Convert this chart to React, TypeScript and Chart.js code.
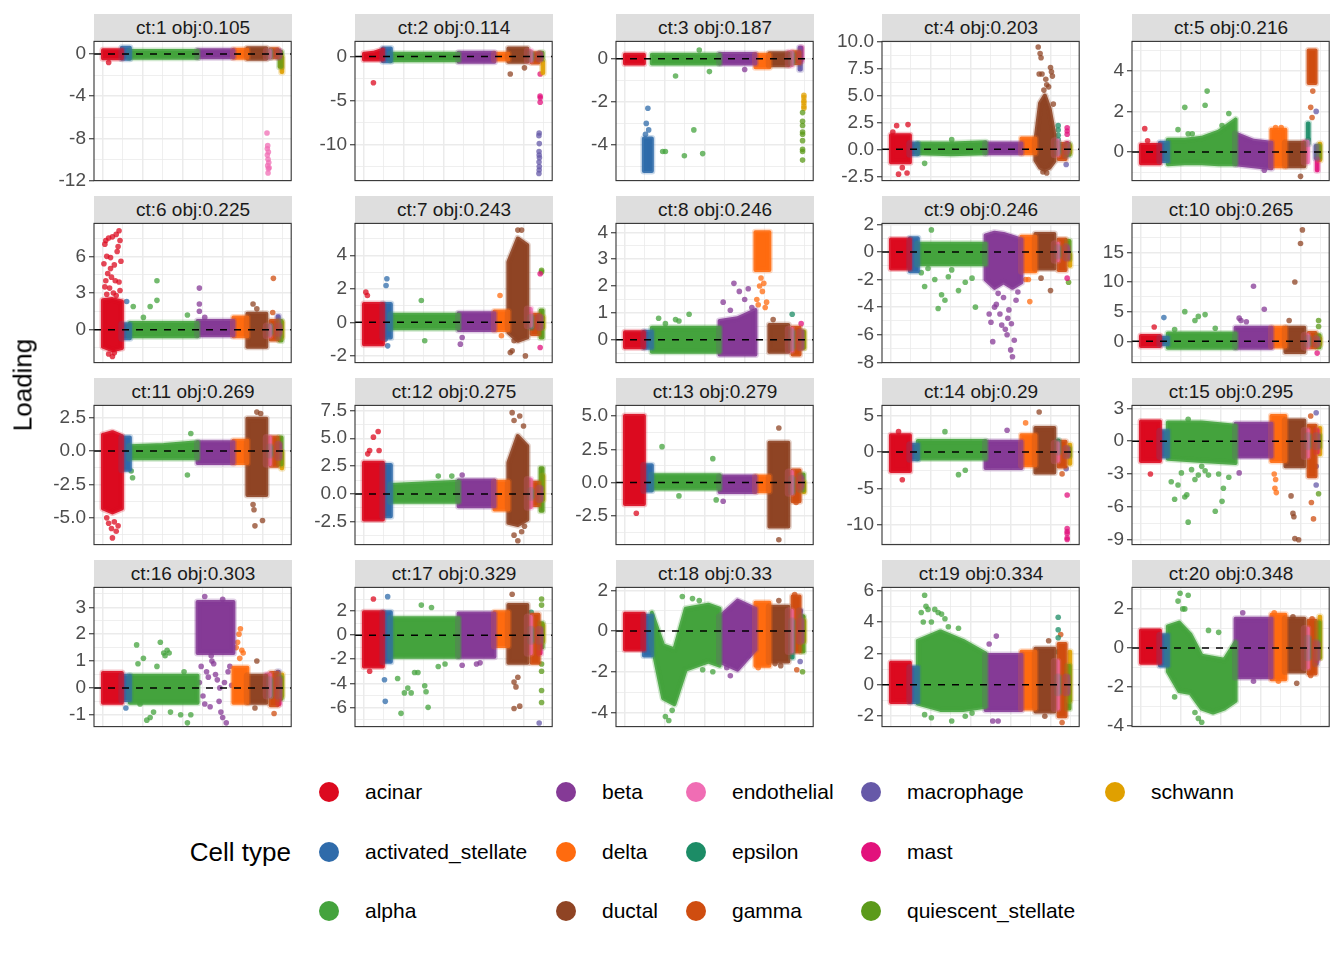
import { useEffect, useRef } from 'react';
import Chart from 'chart.js/auto';

const FONT = '"Liberation Sans", Arial, Helvetica, sans-serif';

// cell types, in the order they are laid out along the x axis
const cellTypes = ['acinar', 'activated_stellate', 'alpha', 'beta', 'delta', 'ductal', 'endothelial', 'epsilon', 'gamma', 'macrophage', 'mast', 'quiescent_stellate', 'schwann'];
const cellColors = ['#DC0A1F', '#2F6BAA', '#44A33D', '#853A96', '#FF6B0F', '#8F4424', '#F06DB4', '#1C8C66', '#CF4D10', '#6659A8', '#E2127C', '#5B9A1A', '#E0A000'];
const cellCounts = [475, 200, 1700, 900, 350, 475, 88, 20, 175, 30, 20, 50, 17];
const xBreaks = [0, 500, 1000, 1500, 2000, 2500, 3000, 3500, 4000, 4500];

const facetTitles = ['ct:1 obj:0.105', 'ct:2 obj:0.114', 'ct:3 obj:0.187', 'ct:4 obj:0.203', 'ct:5 obj:0.216', 'ct:6 obj:0.225', 'ct:7 obj:0.243', 'ct:8 obj:0.246', 'ct:9 obj:0.246', 'ct:10 obj:0.265', 'ct:11 obj:0.269', 'ct:12 obj:0.275', 'ct:13 obj:0.279', 'ct:14 obj:0.29', 'ct:15 obj:0.295', 'ct:16 obj:0.303', 'ct:17 obj:0.329', 'ct:18 obj:0.33', 'ct:19 obj:0.334', 'ct:20 obj:0.348'];

const yLimits: [number, number][] = [
  [-12.02, 1.2], [-14.1, 1.7], [-5.65, 0.8], [-2.9, 10.02], [-1.41, 5.45],
  [-2.7, 8.7], [-2.4, 5.9], [-0.85, 4.33], [-8.02, 2.07], [-3.6, 19.9],
  [-7, 3.4], [-4.55, 7.95], [-4.66, 5.8], [-12.7, 6.4], [-9.45, 3.27],
  [-1.44, 3.74], [-7.6, 3.97], [-4.7, 2.15], [-2.66, 6.2], [-4.02, 3.1],
];
const yBreaks: number[][] = [
  [-12, -8, -4, 0], [-10, -5, 0], [-4, -2, 0], [-2.5, 0, 2.5, 5, 7.5, 10], [0, 2, 4],
  [0, 3, 6], [-2, 0, 2, 4], [0, 1, 2, 3, 4], [-8, -6, -4, -2, 0, 2], [0, 5, 10, 15],
  [-5, -2.5, 0, 2.5], [-2.5, 0, 2.5, 5, 7.5], [-2.5, 0, 2.5, 5], [-10, -5, 0, 5], [-9, -6, -3, 0, 3],
  [-1, 0, 1, 2, 3], [-6, -4, -2, 0, 2], [-4, -2, 0, 2], [-2, 0, 2, 4, 6], [-4, -2, 0, 2],
];

// dense core of each cell type: [type, low edge, high edge]; arrays = profile across the type
type Band = [number, number | number[], number | number[]];
// sparse points: [type, [[position within type 0..1, loading], ...]]
type Dots = [number, [number, number][]];

const bands1: Band[] = [[0, -0.4, 0.35], [1, -0.45, 0.6], [2, -0.35, 0.3], [3, -0.3, 0.35], [4, -0.35, 0.4], [5, -0.45, 0.55], [6, -0.3, 0.3], [7, -0.3, 0.3], [8, -0.3, 0.45], [9, -0.3, 0.3], [10, -0.2, 0.3], [11, -1.2, 0.2], [12, -1.7, -0.3]];
const dots1: Dots[] = [[6, [[0.2, -7.5], [0.4, -8.7], [0.6, -9.3], [0.3, -9.6], [0.5, -10], [0.7, -10.3], [0.4, -10.6], [0.6, -10.9], [0.5, -11.3], [0.3, -9.0], [0.8, -10.8]]], [0, [[0.3, -0.8]]]];

const bands2: Band[] = [[0, -0.35, [0.3, 0.4, 0.75]], [1, -0.55, 0.9], [2, -0.45, 0.3], [3, -0.6, 0.4], [4, -0.35, 0.3], [5, -0.6, 0.9], [6, -0.5, 0.6], [7, -0.3, 0.3], [8, -0.7, 0.35], [9, -0.3, 0.3], [10, -0.3, 0.3], [11, -0.3, 0.4], [12, -1.9, -0.6]];
const dots2: Dots[] = [[0, [[0.5, -3.0]]], [5, [[0.1, -2.0], [0.85, -1.3]]], [9, [[0.5, -8.7], [0.3, -9.0], [0.6, -9.9], [0.4, -10.8], [0.5, -11.2], [0.7, -11.5], [0.4, -12.0], [0.6, -12.5], [0.5, -12.9], [0.3, -13.3]]], [10, [[0.5, -2.0], [0.4, -4.5], [0.6, -4.7], [0.5, -5.2]]]];

const bands3: Band[] = [[0, -0.22, 0.18], [1, -5.2, -3.7], [2, -0.22, 0.18], [3, -0.22, 0.22], [4, -0.4, 0.18], [5, -0.3, 0.25], [6, -0.3, 0.3], [7, -0.2, 0.2], [8, -0.2, 0.3], [9, -0.5, 0.5], [10, -0.1, 0.5]];
const dots3: Dots[] = [[1, [[0.5, -2.3], [0.3, -3.0], [0.6, -3.3], [0.2, -3.5]]], [2, [[0.35, -0.8], [0.85, -0.6], [0.7, 0.4], [0.62, -3.3], [0.16, -4.3], [0.2, -4.3], [0.48, -4.5], [0.75, -4.4]]], [3, [[0.7, -0.5]]], [11, [[0.5, -2.5], [0.5, -2.9], [0.5, -3.1], [0.5, -3.4], [0.5, -3.5], [0.5, -3.8], [0.5, -4.2], [0.5, -4.3], [0.5, -4.7]]], [12, [[0.5, -1.7], [0.5, -1.8], [0.5, -1.95], [0.5, -2.05], [0.5, -2.2], [0.5, -2.3]]]];

const bands4: Band[] = [[0, -1.2, 1.3], [1, -0.45, 0.55], [2, [-0.35, -0.45, -0.35], [0.55, 0.55, 0.65]], [3, -0.35, 0.55], [4, -0.35, 1.0], [5, [-1.0, -1.7, -1.9, -1.7, -1.1], [0.8, 4.3, 5.0, 3.8, 1.4]], [6, -0.5, 0.8], [7, -0.3, 0.6], [8, -0.9, 0.5], [9, -0.6, 0.4], [10, -0.2, 0.6], [11, -0.5, 0.5], [12, -0.3, 0.3]];
const dots4: Dots[] = [[0, [[0.3, 2.2], [0.9, 2.3], [0.4, -2.3], [0.85, -2.2], [0.1, 1.6], [0.6, -1.7]]], [2, [[0.1, -1.3], [0.5, 0.9]]], [5, [[0.15, 9.5], [0.25, 8.9], [0.3, 8.5], [0.8, 7.6], [0.85, 7.2], [0.2, 7.0], [0.35, 7.0], [0.55, 6.5], [0.6, 6.0], [0.7, 5.8], [0.45, 5.5], [0.9, 6.8], [0.95, 4.2], [0.4, -2.1], [0.6, -2.2]]], [7, [[0.5, 2.2], [0.5, 1.8], [0.5, 1.3], [0.5, 0.9]]], [10, [[0.5, 1.4], [0.5, 1.7], [0.5, 2.0]]], [9, [[0.5, -1.4]]]];

const bands5: Band[] = [[0, -0.55, 0.35], [1, -0.45, 0.45], [2, [-0.6, -0.55, -0.55, -0.6, -0.6], [0.6, 0.6, 0.7, 1.0, 1.6]], [3, [-0.6, -0.7, -0.8], [0.9, 0.55, 0.45]], [4, -0.7, 1.1], [5, -0.7, 0.45], [6, -0.5, 0.5], [7, 0.4, 1.4], [8, 3.4, 5.0], [9, -0.3, 0.3], [10, -0.9, -0.4], [11, -0.3, 0.3], [12, -0.4, 0.4]];
const dots5: Dots[] = [[0, [[0.2, 1.15], [0.35, 0.55]]], [2, [[0.25, 2.2], [0.55, 2.3], [0.58, 3.0], [0.3, 0.9], [0.36, 0.9], [0.15, 1.1], [0.9, 1.9], [0.8, 1.3]]], [3, [[0.8, -0.9]]], [4, [[0.3, 1.2], [0.7, 1.2]]], [5, [[0.8, -1.2]]], [8, [[0.3, 2.2], [0.5, 1.7], [0.6, 3.0]]], [9, [[0.5, 2.0]]], [7, [[0.5, 0.6]]]];

const bands6: Band[] = [[0, [-1.4, -1.7, -1.5], [2.4, 2.5, 2.3]], [1, -0.7, 0.45], [2, -0.55, 0.55], [3, -0.45, 0.7], [4, -0.55, 1.0], [5, -1.4, 1.3], [6, -0.5, 0.3], [7, -0.3, 0.3], [8, -0.8, 0.7], [9, -0.6, 1.1], [10, -0.3, 0.3], [11, -0.9, 0.7], [12, -0.6, 0.6]];
const dots6: Dots[] = [[0, [[0.1, 7.0], [0.15, 7.3], [0.3, 7.5], [0.5, 7.6], [0.7, 7.8], [0.85, 8.1], [0.9, 7.3], [0.8, 6.8], [0.2, 6.0], [0.05, 5.4], [0.4, 5.9], [0.6, 5.3], [0.75, 6.4], [0.95, 5.6], [0.25, 4.6], [0.45, 4.3], [0.65, 4.0], [0.85, 3.9], [0.1, 3.5], [0.35, 3.4], [0.55, 3.0], [0.9, 3.2], [0.2, 2.9], [0.7, 2.8], [0.3, -2.0], [0.5, -2.2], [0.6, -1.9], [0.4, 5.0], [0.15, 4.0]]], [1, [[0.6, 2.3]]], [2, [[0.05, 1.9], [0.3, 1.9], [0.4, 2.4], [0.4, 4.0], [0.85, 1.2], [0.2, 1.0]]], [3, [[0.05, 1.5], [0.05, 2.1], [0.05, 3.4], [0.2, 1.0]]], [5, [[0.3, 2.1], [0.5, 1.7]]], [8, [[0.4, 4.2], [0.3, 1.4]]]];

const bands7: Band[] = [[0, -1.3, 1.1], [1, -0.9, 1.1], [2, -0.35, 0.45], [3, -0.45, 0.55], [4, -0.45, 0.65], [5, [-0.6, -1.1, -0.9], [3.6, 5.0, 4.6]], [6, -0.2, 0.8], [7, -0.3, 0.3], [8, -0.7, 0.45], [9, -0.3, 0.3], [10, -0.3, 0.3], [11, -0.9, 0.7], [12, -0.3, 0.3]];
const dots7: Dots[] = [[0, [[0.1, 1.8], [0.18, 1.6]]], [1, [[0.4, 2.2], [0.5, 2.6], [0.6, -1.4], [0.3, -1.0]]], [2, [[0.45, 1.3], [0.5, -1.1]]], [3, [[0.1, -0.9], [0.05, -1.3]]], [4, [[0.4, 1.6], [0.5, -0.8]]], [5, [[0.1, -1.8], [0.2, -1.7], [0.9, -2.0], [0.5, 5.5], [0.7, 5.5], [0.3, -1.1]]], [10, [[0.5, 2.9], [0.5, -1.5]]], [11, [[0.5, 3.0], [0.5, 3.1]]]];

const bands8: Band[] = [[0, -0.28, 0.28], [1, -0.3, 0.3], [2, -0.45, 0.45], [3, [-0.55, -0.55, -0.55], [0.7, 0.8, 1.1]], [4, 2.6, 4.0], [5, -0.45, 0.55], [6, -0.4, 0.4], [7, -0.3, 0.3], [8, -0.55, 0.45], [9, -0.3, 0.3], [10, -0.3, 0.3], [11, -0.3, 0.3], [12, -0.3, 0.3]];
const dots8: Dots[] = [[2, [[0.1, 0.8], [0.35, 0.75], [0.4, 0.7], [0.55, 0.95], [0.2, 0.6]]], [3, [[0.1, 1.4], [0.4, 2.1], [0.55, 1.8], [0.8, 1.9], [0.9, 1.2], [0.3, 1.1], [0.7, 1.5]]], [4, [[0.1, 1.5], [0.2, 1.3], [0.5, 1.8], [0.6, 2.1], [0.7, 1.2], [0.4, 2.3], [0.8, 1.4], [0.3, 2.0]]], [5, [[0.2, 0.75]]], [7, [[0.5, 0.95]]], [10, [[0.5, 0.6]]]];

const bands9: Band[] = [[0, -1.2, 0.9], [1, -1.4, 1.0], [2, -0.9, 0.6], [3, [-2.0, -2.6, -2.2, -2.6, -2.2], [1.2, 1.4, 1.3, 1.1, 0.9]], [4, -1.4, 1.1], [5, -1.2, 1.3], [6, -0.6, 0.6], [7, -0.3, 0.3], [8, -1.3, 0.9], [9, -0.4, 0.4], [10, -0.5, 0.3], [11, -0.5, 0.8], [12, -1.0, -0.2]];
const dots9: Dots[] = [[2, [[0.05, -1.5], [0.1, -2.5], [0.15, -1.2], [0.3, -4.1], [0.35, -3.1], [0.4, -3.5], [0.45, -1.8], [0.6, -2.8], [0.7, -2.2], [0.8, -1.9], [0.85, -4.0], [0.2, 1.6], [0.5, -1.3], [0.25, -2.0]]], [3, [[0.1, -4.5], [0.15, -5.1], [0.2, -6.5], [0.3, -3.8], [0.4, -4.5], [0.5, -3.3], [0.55, -5.6], [0.6, -6.0], [0.65, -4.2], [0.7, -7.1], [0.75, -7.6], [0.8, -6.4], [0.72, -5.2], [0.85, -3.5], [0.9, -2.9], [0.25, -4.0], [0.45, -5.3], [0.62, -4.8], [0.35, -3.0]]], [4, [[0.3, -2.0], [0.6, -3.6], [0.5, -2.0]]], [5, [[0.3, -1.9], [0.8, -2.8]]], [10, [[0.5, -1.9]]], [11, [[0.5, -2.2]]]];

const bands10: Band[] = [[0, -0.8, 0.9], [1, -0.5, 0.6], [2, -1.1, 1.3], [3, -1.1, 2.3], [4, -0.9, 2.3], [5, -1.8, 2.3], [6, -1.0, 1.0], [7, -0.5, 0.5], [8, -1.0, 1.4], [9, -0.5, 0.5], [10, -0.5, 0.3], [11, -1.0, 1.0], [12, -0.5, 0.5]];
const dots10: Dots[] = [[0, [[0.7, 2.4]]], [1, [[0.5, 4.0]]], [2, [[0.25, 5.0], [0.4, 3.5], [0.45, 4.2], [0.55, 4.5], [0.7, 2.2], [0.1, 2.0]]], [3, [[0.1, 3.9], [0.5, 9.3], [0.8, 5.4], [0.3, 3.3], [0.15, 3.5]]], [5, [[0.2, 3.5], [0.5, 10.0], [0.8, 16.5], [0.9, 18.8]]], [10, [[0.5, -2.0]]], [11, [[0.5, 3.5], [0.5, 2.5]]]];

const bands11: Band[] = [[0, [-4.3, -4.6, -4.3], [1.2, 1.4, 1.1]], [1, -1.4, 1.0], [2, [-0.55, -0.55, -0.55], [0.35, 0.45, 0.65]], [3, -0.9, 0.65], [4, -0.9, 0.75], [5, -3.3, 2.4], [6, -1.0, 1.0], [7, -0.3, 0.3], [8, -1.1, 1.0], [9, -0.5, 0.5], [10, -0.5, 0.5], [11, -1.0, 1.0], [12, -1.3, -0.1]];
const dots11: Dots[] = [[0, [[0.3, -5.4], [0.45, -5.8], [0.5, -6.5], [0.6, -5.3], [0.8, -5.6], [0.7, -6.0], [0.2, -5.0]]], [2, [[0.02, -1.5], [0.04, -2.0], [0.85, -1.8], [0.9, 1.3]]], [5, [[0.3, -4.0], [0.35, -4.4], [0.4, -5.6], [0.8, -5.2], [0.5, 2.9], [0.7, 2.8]]]];

const bands12: Band[] = [[0, -2.3, 2.8], [1, -2.0, 2.6], [2, [-0.7, -0.7], [0.8, 1.1]], [3, -1.1, 1.2], [4, -1.4, 1.1], [5, [-2.6, -2.8, -2.3], [2.8, 5.2, 4.3]], [6, -1.2, 1.3], [7, -0.3, 0.3], [8, -1.0, 1.0], [9, -0.5, 0.5], [10, -0.5, 0.5], [11, -1.5, 2.3], [12, -0.5, 1.6]];
const dots12: Dots[] = [[0, [[0.3, 3.9], [0.5, 5.1], [0.75, 5.6], [0.8, 3.9], [0.2, 3.6]]], [2, [[0.7, 1.6], [0.9, 1.6]]], [3, [[0.1, 1.7]]], [5, [[0.2, 7.3], [0.3, 6.6], [0.8, 6.1], [0.3, -3.7], [0.5, -4.2], [0.7, -3.4], [0.85, -2.9], [0.6, 7.0]]]];

const bands13: Band[] = [[0, -1.6, 5.0], [1, -0.6, 1.3], [2, -0.45, 0.55], [3, -0.7, 0.45], [4, -0.65, 0.45], [5, -3.3, 3.0], [6, -0.8, 0.8], [7, -0.7, 0.3], [8, -1.4, 0.9], [9, -0.5, 0.5], [10, -0.3, 0.3], [11, -0.6, 0.6], [12, -0.7, 0]];
const dots13: Dots[] = [[0, [[0.6, -2.3]]], [2, [[0.15, 2.7], [0.9, 1.8], [0.4, -1.0], [0.95, -1.3]]], [3, [[0.1, -1.4]]], [5, [[0.5, 4.1], [0.5, -4.3]]], [8, [[0.5, -1.5]]]];

const bands14: Band[] = [[0, -2.6, 2.3], [1, -1.0, 1.0], [2, -0.9, 1.5], [3, -2.2, 1.4], [4, -1.8, 2.3], [5, -2.8, 3.3], [6, -1.2, 1.2], [7, 0, 1.6], [8, -2.0, 1.4], [9, -0.5, 0.5], [10, -0.5, 0.5], [11, -0.5, 0.5], [12, -1.6, 1.0]];
const dots14: Dots[] = [[0, [[0.6, -3.8], [0.4, 2.8]]], [2, [[0.4, 2.8], [0.6, -3.1], [0.7, -2.5]]], [3, [[0.6, 3.0]]], [4, [[0.3, 4.0]]], [5, [[0.2, 5.5]]], [8, [[0.5, -3.0]]], [9, [[0.5, -2.3]]], [10, [[0.5, -5.9], [0.5, -10.5], [0.5, -10.9], [0.5, -11.2], [0.5, -11.8], [0.5, -12.0]]]];

const bands15: Band[] = [[0, -1.8, 1.8], [1, -1.4, 0.9], [2, [-1.6, -1.8, -2.0], [1.7, 1.7, 1.4]], [3, -1.4, 1.6], [4, -1.8, 2.3], [5, -2.3, 1.9], [6, -1.4, 1.0], [7, -0.5, 0.5], [8, -3.2, 1.4], [9, -0.5, 0.5], [10, -1.0, 1.0], [11, -0.5, 0.5], [12, -1.2, 1.2]];
const dots15: Dots[] = [[0, [[0.5, -3.0]]], [2, [[0.05, -3.7], [0.1, -5.3], [0.15, -4.0], [0.25, -5.1], [0.28, -4.9], [0.3, -7.4], [0.4, -3.5], [0.45, -3.1], [0.6, -3.1], [0.7, -6.4], [0.8, -5.5], [0.82, -4.3], [0.9, -3.3], [0.2, -2.9], [0.35, -2.6], [0.55, -2.7], [0.75, -3.0], [0.5, -2.3], [0.3, 2.0]]], [3, [[0.1, -2.9]]], [4, [[0.2, -3.0], [0.3, -3.5], [0.25, -4.3], [0.35, -4.7]]], [5, [[0.3, -5.0], [0.4, -6.6], [0.45, -6.9], [0.5, -8.9], [0.7, -9.0]]], [8, [[0.4, -5.6], [0.7, -7.1], [0.3, 2.3]]], [9, [[0.5, 2.6], [0.5, -2.3], [0.5, -4.0]]], [11, [[0.5, -4.8]]]];

const bands16: Band[] = [[0, -0.55, 0.55], [1, -0.45, 0.45], [2, -0.55, 0.45], [3, 1.3, 3.2], [4, -0.55, 0.75], [5, -0.55, 0.45], [6, -0.3, 0.5], [7, -0.3, 0.3], [8, -0.65, 0.55], [9, -0.3, 0.6], [10, -0.6, 0.3], [11, -0.4, 0.4], [12, -0.3, 0.5]];
const dots16: Dots[] = [[1, [[0.5, -0.75]]], [2, [[0.1, 1.6], [0.2, 1.1], [0.12, 0.9], [0.45, 1.7], [0.5, 1.3], [0.52, 1.2], [0.55, 1.4], [0.58, 1.3], [0.4, 0.8], [0.25, -1.2], [0.3, -1.1], [0.35, -0.9], [0.6, -0.9], [0.75, -1.0], [0.85, -1.3], [0.9, -1.0], [0.15, -0.6], [0.8, 0.6]]], [3, [[0.05, 0.2], [0.1, 0.8], [0.15, -0.3], [0.2, -0.6], [0.25, 0.6], [0.3, 0.4], [0.35, -0.7], [0.4, 1.0], [0.45, 0.9], [0.5, 0.5], [0.55, 0.3], [0.6, -0.5], [0.65, -0.9], [0.7, -1.1], [0.75, 0.2], [0.8, -1.3], [0.85, 0.6], [0.9, 0.8], [0.95, 0.1], [0.62, 0.0], [0.38, 1.2], [0.2, 3.4], [0.7, 3.3]]], [4, [[0.2, 1.5], [0.3, 1.7], [0.4, 2.0], [0.5, 2.2], [0.6, 1.4], [0.7, 1.3], [0.45, 1.1]]], [5, [[0.5, 1.0], [0.4, -0.75]]], [8, [[0.5, -0.95]]]];

const bands17: Band[] = [[0, -2.6, 1.9], [1, -2.2, 1.9], [2, -1.8, 1.4], [3, -1.8, 1.8], [4, -0.9, 1.9], [5, -2.3, 2.5], [6, -1.5, 1.5], [7, -0.5, 0.5], [8, -2.3, 1.7], [9, -0.5, 0.5], [10, -1.5, 0.5], [11, -1.0, 1.0], [12, -0.5, 0.8]];
const dots17: Dots[] = [[0, [[0.5, 3.0], [0.3, -3.0]]], [1, [[0.6, 3.2], [0.2, -3.7], [0.3, -5.5]]], [2, [[0.45, 2.5], [0.6, 2.3], [0.1, -3.6], [0.15, -6.5], [0.2, -4.8], [0.25, -4.4], [0.3, -4.8], [0.35, -3.1], [0.4, -3.1], [0.5, -4.2], [0.52, -4.7], [0.55, -6.0], [0.7, -2.6], [0.8, -2.4]]], [3, [[0.1, -2.5], [0.5, -2.4], [0.6, -2.3]]], [5, [[0.2, 3.4], [0.3, -3.9], [0.4, -4.3], [0.3, -6.1], [0.6, -5.9], [0.5, -3.5]]], [7, [[0.5, 1.9]]], [11, [[0.5, 3.0], [0.5, 2.5], [0.5, -3.0], [0.5, -4.6], [0.5, -5.6], [0.5, -2.4]]], [9, [[0.5, -7.3]]]];

const bands18: Band[] = [[0, -0.9, 0.85], [1, -1.2, 0.75], [2, [-0.6, -3.3, -3.6, -1.9, -1.7, -1.5, -1.7], [0.9, -0.7, -0.9, 1.1, 1.2, 1.3, 1.1]], [3, [-1.5, -1.9, -0.9], [0.7, 1.5, 1.1]], [4, -1.7, 1.4], [5, -1.5, 1.2], [6, -1.0, 1.0], [7, -1.3, 0.5], [8, -1.0, 1.7], [9, -0.5, 1.0], [10, -0.5, 0.5], [11, -1.0, 0.7], [12, -0.5, 0.5]];
const dots18: Dots[] = [[2, [[0.2, -4.2], [0.25, -4.4], [0.3, -3.9], [0.45, 1.7], [0.6, 1.6], [0.7, 1.5], [0.9, -2.0], [0.75, -1.9]]], [3, [[0.2, -1.8], [0.3, -2.2], [0.8, -1.2]]], [4, [[0.2, -1.8]]], [5, [[0.3, -1.6], [0.6, -1.7], [0.5, 1.5]]], [8, [[0.3, 1.8], [0.6, -1.9]]], [11, [[0.5, -2.0], [0.5, 0.7]]], [9, [[0.5, -1.5], [0.5, 1.0]]]];

const bands19: Band[] = [[0, -1.1, 1.4], [1, -1.1, 1.1], [2, [-1.2, -1.6, -1.6, -1.4], [2.8, 3.4, 2.8, 2.0]], [3, -1.6, 1.9], [4, -1.5, 2.1], [5, -1.7, 2.3], [6, -1.5, 1.5], [7, -0.5, 0.5], [8, -2.0, 2.6], [9, -0.5, 0.5], [10, -0.5, 0.5], [11, -1.5, 1.2], [12, -1.0, 2.1]];
const dots19: Dots[] = [[2, [[0.05, 4.6], [0.1, 5.7], [0.12, 5.0], [0.15, 4.8], [0.25, 4.8], [0.3, 4.6], [0.35, 4.5], [0.1, -1.9], [0.2, -2.1], [0.5, -2.3], [0.2, 4.0], [0.4, 4.2], [0.6, 3.6], [0.08, 4.0], [0.7, -2.0], [0.45, 3.7], [0.8, -1.8]]], [3, [[0.3, 3.1], [0.1, 2.6], [0.2, -2.3], [0.35, -2.3]]], [5, [[0.7, 2.8], [0.5, -2.0]]], [7, [[0.5, 4.3], [0.5, 3.5], [0.5, 3.0], [0.5, 2.1]]], [8, [[0.5, -2.4], [0.3, 3.2]]]];

const bands20: Band[] = [[0, -0.75, 0.9], [1, -0.9, 0.65], [2, [-1.2, -2.2, -2.3, -3.1, -3.3, -3.1, -2.7], [1.1, 1.3, 0.7, -0.4, -0.5, -0.6, 0.3]], [3, -1.5, 1.5], [4, -1.6, 1.7], [5, -1.2, 1.5], [6, -1.0, 1.0], [7, -0.5, 0.5], [8, -1.3, 1.4], [9, -0.8, 0.3], [10, -0.6, 0.2], [11, -0.5, 1.3], [12, -0.5, 1.6]];
const dots20: Dots[] = [[2, [[0.15, 2.4], [0.18, 2.8], [0.22, 2.0], [0.3, 2.7], [0.25, 2.0], [0.45, -3.6], [0.5, -3.8], [0.4, -3.3], [0.1, -2.5], [0.6, 0.9], [0.75, 0.8]]], [3, [[0.2, 1.8], [0.5, -1.7]]], [4, [[0.2, 1.8], [0.5, -1.7]]], [5, [[0.4, 1.6], [0.6, -1.8]]], [8, [[0.5, 1.5], [0.3, -1.4]]]];

const facetBands = [bands1, bands2, bands3, bands4, bands5, bands6, bands7, bands8, bands9, bands10, bands11, bands12, bands13, bands14, bands15, bands16, bands17, bands18, bands19, bands20];
const facetDots = [dots1, dots2, dots3, dots4, dots5, dots6, dots7, dots8, dots9, dots10, dots11, dots12, dots13, dots14, dots15, dots16, dots17, dots18, dots19, dots20];

// page layout
const PANEL_LEFT = [94, 355, 616, 882, 1132];
const STRIP_TOP = [14, 196, 378, 560];
const PANEL_W = 198;
const PANEL_H = 140;
const STRIP_H = 27;
const AXIS_W = 60;
const PAD = 14;

const typeStart: number[] = [];
let acc = 0;
for (const c of cellCounts) {
  typeStart.push(acc);
  acc += c;
}
const totalCells = acc;

function rgba(hex: string, a: number) {
  const n = parseInt(hex.slice(1), 16);
  return `rgba(${(n >> 16) & 255},${(n >> 8) & 255},${n & 255},${a})`;
}

function bandPolygon(band: Band) {
  const [t, lo, hi] = band;
  const los = Array.isArray(lo) ? lo : [lo, lo];
  const his = Array.isArray(hi) ? hi : [hi, hi];
  const x0 = typeStart[t];
  const w = cellCounts[t];
  const upper = his.map((v, i) => ({ x: x0 + (w * i) / (his.length - 1), y: v }));
  const lower = los.map((v, i) => ({ x: x0 + (w * i) / (los.length - 1), y: v })).reverse();
  return [...upper, ...lower, upper[0]];
}

const panelDecor = {
  id: 'panelDecor',
  afterDatasetsDraw(chart: any) {
    const { ctx, chartArea: a, scales } = chart;
    const y0 = scales.y.getPixelForValue(0);
    ctx.save();
    ctx.beginPath();
    ctx.rect(a.left, a.top, a.right - a.left, a.bottom - a.top);
    ctx.clip();
    ctx.setLineDash([7, 7]);
    ctx.strokeStyle = '#000';
    ctx.lineWidth = 1.5;
    ctx.beginPath();
    ctx.moveTo(a.left, y0);
    ctx.lineTo(a.right, y0);
    ctx.stroke();
    ctx.restore();
    ctx.save();
    ctx.strokeStyle = '#333333';
    ctx.lineWidth = 1.1;
    ctx.strokeRect(a.left, a.top, a.right - a.left, a.bottom - a.top);
    ctx.restore();
  },
};

function Facet({ idx }: { idx: number }) {
  const canvasRef = useRef<HTMLCanvasElement>(null);
  const chartRef = useRef<Chart | null>(null);

  useEffect(() => {
    if (!canvasRef.current) return;
    const [ymin, ymax] = yLimits[idx];
    const majors = yBreaks[idx];
    const step = majors[1] - majors[0];
    const dec = majors.some((v) => Math.abs(v - Math.round(v)) > 1e-9) ? 1 : 0;
    const minors = [majors[0] - step / 2, ...majors.map((v) => v + step / 2)].filter((v) => v > ymin && v < ymax);
    const isMajor = (v: number) => majors.some((m) => Math.abs(m - v) < 1e-9);
    const yTicks = [...majors, ...minors].sort((a, b) => a - b).map((v) => ({ value: v }));

    const datasets: any[] = [];
    // faint halo first, so each dense core gets a soft edge like a point cloud
    facetBands[idx].forEach((b) => {
      datasets.push({
        data: bandPolygon(b),
        fill: false,
        borderColor: rgba(cellColors[b[0]], 0.25),
        borderWidth: 7,
        borderJoinStyle: 'round',
        borderCapStyle: 'round',
        pointRadius: 0,
        pointHoverRadius: 0,
      });
    });
    facetBands[idx].forEach((b) => {
      const c = cellColors[b[0]];
      datasets.push({
        data: bandPolygon(b),
        fill: 'shape',
        backgroundColor: c,
        borderColor: rgba(c, 0.9),
        borderWidth: 4,
        borderJoinStyle: 'round',
        borderCapStyle: 'round',
        pointRadius: 0,
        pointHoverRadius: 0,
      });
    });
    facetDots[idx].forEach(([t, pts]) => {
      datasets.push({
        data: pts.map(([f, y]) => ({ x: typeStart[t] + f * cellCounts[t], y })),
        showLine: false,
        fill: false,
        pointRadius: 2.8,
        pointHoverRadius: 0,
        pointBorderWidth: 0,
        pointBackgroundColor: rgba(cellColors[t], 0.75),
        backgroundColor: rgba(cellColors[t], 0.75),
      });
    });

    if (chartRef.current) chartRef.current.destroy();
    chartRef.current = new Chart(canvasRef.current, {
      type: 'line',
      data: { datasets },
      options: {
        animation: false,
        responsive: true,
        maintainAspectRatio: false,
        events: [],
        layout: { padding: { top: PAD, bottom: PAD, left: 0, right: 2 } },
        plugins: { legend: { display: false }, tooltip: { enabled: false } },
        scales: {
          x: {
            type: 'linear',
            min: -0.05 * totalCells,
            max: 1.05 * totalCells,
            afterBuildTicks: (s: any) => {
              s.ticks = xBreaks.map((v) => ({ value: v }));
            },
            afterFit: (s: any) => {
              s.height = 0;
            },
            ticks: { display: false },
            grid: {
              color: '#EBEBEB',
              lineWidth: (c: any) => (c.index % 2 === 0 ? 1.5 : 0.8),
              drawTicks: false,
            },
            border: { display: false },
          },
          y: {
            type: 'linear',
            min: ymin,
            max: ymax,
            afterBuildTicks: (s: any) => {
              s.ticks = yTicks.map((t) => ({ ...t }));
            },
            afterFit: (s: any) => {
              s.width = AXIS_W;
            },
            ticks: {
              autoSkip: false,
              padding: 3,
              color: '#4D4D4D',
              font: { family: FONT, size: 19 },
              callback: (v: any) => (isMajor(Number(v)) ? Number(v).toFixed(dec) : ''),
            },
            grid: {
              color: '#EBEBEB',
              lineWidth: (c: any) => (c.tick && isMajor(c.tick.value) ? 1.5 : 0.8),
              tickLength: 5,
              tickWidth: 1.1,
              tickColor: (c: any) => (c.tick && isMajor(c.tick.value) ? '#333333' : 'rgba(0,0,0,0)'),
            },
            border: { display: false },
          },
        },
      },
      plugins: [panelDecor],
    } as any);

    return () => {
      if (chartRef.current) {
        chartRef.current.destroy();
        chartRef.current = null;
      }
    };
  }, [idx]);

  const col = idx % 5;
  const row = Math.floor(idx / 5);
  const left = PANEL_LEFT[col];
  const top = STRIP_TOP[row];

  return (
    <>
      <div
        style={{
          position: 'absolute',
          left,
          top,
          width: PANEL_W,
          height: STRIP_H,
          background: '#DEDEDE',
          color: '#1A1A1A',
          fontSize: 19,
          lineHeight: `${STRIP_H}px`,
          textAlign: 'center',
          whiteSpace: 'nowrap',
        }}
      >
        {facetTitles[idx]}
      </div>
      <div
        style={{
          position: 'absolute',
          left: left - AXIS_W,
          top: top + STRIP_H - PAD,
          width: AXIS_W + PANEL_W + 2,
          height: PANEL_H + 2 * PAD,
        }}
      >
        <canvas ref={canvasRef} />
      </div>
    </>
  );
}

const legendColumns = [[0, 1, 2], [3, 4, 5], [6, 7, 8], [9, 10, 11], [12]];
const legendKeyX = [329, 566, 696, 871, 1115];
const legendRowY = [792, 852, 911];

export default function App() {
  return (
    <div
      style={{
        position: 'absolute',
        left: 0,
        top: 0,
        width: 1344,
        height: 960,
        background: '#FFFFFF',
        fontFamily: FONT,
        overflow: 'hidden',
      }}
    >
      {facetTitles.map((_, i) => (
        <Facet key={i} idx={i} />
      ))}
      <div
        style={{
          position: 'absolute',
          left: 23,
          top: 385,
          transform: 'translate(-50%, -50%) rotate(-90deg)',
          fontSize: 26,
          color: '#000',
          whiteSpace: 'nowrap',
        }}
      >
        Loading
      </div>
      <div
        style={{
          position: 'absolute',
          right: 1344 - 291,
          top: legendRowY[1],
          transform: 'translateY(-50%)',
          fontSize: 26,
          color: '#000',
          whiteSpace: 'nowrap',
        }}
      >
        Cell type
      </div>
      {legendColumns.map((col, ci) =>
        col.map((t, ri) => (
          <div key={t}>
            <div
              style={{
                position: 'absolute',
                left: legendKeyX[ci] - 10,
                top: legendRowY[ri] - 10,
                width: 20,
                height: 20,
                borderRadius: '50%',
                background: cellColors[t],
              }}
            />
            <div
              style={{
                position: 'absolute',
                left: legendKeyX[ci] + 36,
                top: legendRowY[ri],
                transform: 'translateY(-50%)',
                fontSize: 21,
                color: '#000',
                whiteSpace: 'nowrap',
              }}
            >
              {cellTypes[t]}
            </div>
          </div>
        ))
      )}
    </div>
  );
}
